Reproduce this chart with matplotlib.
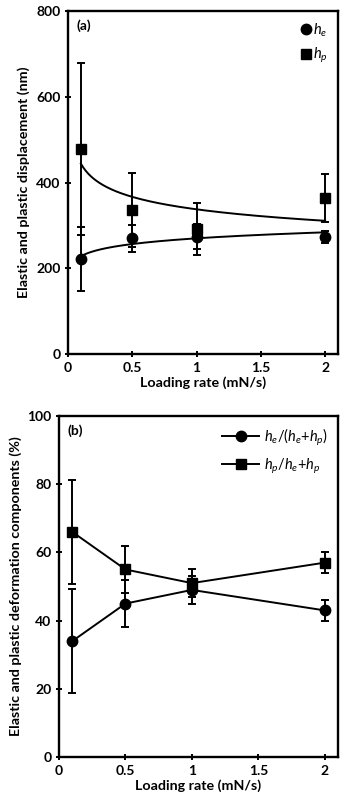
import numpy as np
import matplotlib
matplotlib.use('Agg')
import matplotlib.pyplot as plt

plt.rcParams['font.family'] = ['Lato', 'DejaVu Sans']
plt.rcParams['mathtext.fontset'] = 'custom'
plt.rcParams['mathtext.it'] = 'Lato:italic'
plt.rcParams['mathtext.rm'] = 'Lato'

# Loading rates (mN/s)
rate = [0.1, 0.5, 1.0, 2.0]

# (a) displacements (nm)
he = [222, 270, 274, 273]
he_err = [75, 32, 30, 14]
hp = [478, 336, 292, 364]
hp_err = [200, 86, 60, 57]

# (b) deformation components (%)
he_pct = [34, 45, 49, 43]
hp_pct = [66, 55, 51, 57]
pct_err = [15.3, 7, 4, 3]


def power_fit(x, y):
    # Excel style power trendline y = a * x^b
    b, lna = np.polyfit(np.log(x), np.log(y), 1)
    return np.exp(lna), b


def style_axes(ax):
    for s in ax.spines.values():
        s.set_linewidth(1.7)
    ax.tick_params(direction='inout', length=5, width=1.4, labelsize=10, pad=3)
    ax.set_xlim(0, 2.1)
    ax.set_xticks([0, 0.5, 1, 1.5, 2])
    ax.set_xticklabels(['0', '0.5', '1', '1.5', '2'], fontweight='bold')
    ax.set_xlabel('Loading rate (mN/s)', fontsize=10.3, fontweight='bold', labelpad=2)


fig = plt.figure(figsize=(3.58, 8.05), dpi=100)

# ---- panel (a)
ax1 = fig.add_axes([0.19, 0.5602, 0.754, 0.4261])
ax1.errorbar(rate, he, yerr=he_err, fmt='o', color='black', ms=7.5,
             capsize=3, elinewidth=1.4, capthick=1.4, label='$h_e$')
ax1.errorbar(rate, hp, yerr=hp_err, fmt='s', color='black', ms=7.5,
             capsize=3, elinewidth=1.4, capthick=1.4, label='$h_p$')
xs = np.linspace(0.1, 2.0, 200)
for y in (he, hp):
    a, b = power_fit(rate, y)
    ax1.plot(xs, a * xs ** b, color='black', lw=1.4)
ax1.set_ylim(0, 800)
ax1.set_yticks([0, 200, 400, 600, 800])
style_axes(ax1)
ax1.set_yticklabels(['0', '200', '400', '600', '800'], fontweight='bold')
ax1.set_ylabel('Elastic and plastic displacement (nm)', fontsize=10.3,
               fontweight='bold', labelpad=4)
ax1.text(0.03, 0.975, '(a)', transform=ax1.transAxes, ha='left', va='top',
         fontsize=10, fontweight='bold')
h, l = ax1.get_legend_handles_labels()
ax1.legend([hh[0] for hh in h], l, loc='upper right', frameon=False,
           handlelength=0.6, handletextpad=0.2, fontsize=10.5,
           borderaxespad=0.3, labelspacing=0.5)

# ---- panel (b)
ax2 = fig.add_axes([0.165, 0.0596, 0.779, 0.4236])
ax2.errorbar(rate, he_pct, yerr=pct_err, fmt='-o', color='black', ms=7.5,
             lw=1.4, capsize=3, elinewidth=1.4, capthick=1.4,
             label='$h_e/(h_e$+$h_p)$')
ax2.errorbar(rate, hp_pct, yerr=pct_err, fmt='-s', color='black', ms=7.5,
             lw=1.4, capsize=3, elinewidth=1.4, capthick=1.4,
             label='$h_p/h_e$+$h_p$')
ax2.set_ylim(0, 100)
ax2.set_yticks([0, 20, 40, 60, 80, 100])
style_axes(ax2)
ax2.set_yticklabels(['0', '20', '40', '60', '80', '100'], fontweight='bold')
ax2.set_ylabel('Elastic and plastic deformation components (%)', fontsize=10.3,
               fontweight='bold', labelpad=4)
ax2.text(0.03, 0.975, '(b)', transform=ax2.transAxes, ha='left', va='top',
         fontsize=10, fontweight='bold')
h, l = ax2.get_legend_handles_labels()
ax2.legend([hh[0] for hh in h], l, loc='upper right', frameon=False,
           handlelength=2.6, handletextpad=0.3, fontsize=10.5,
           borderaxespad=0.3, labelspacing=0.6)

fig.savefig('out.png', dpi=100)
